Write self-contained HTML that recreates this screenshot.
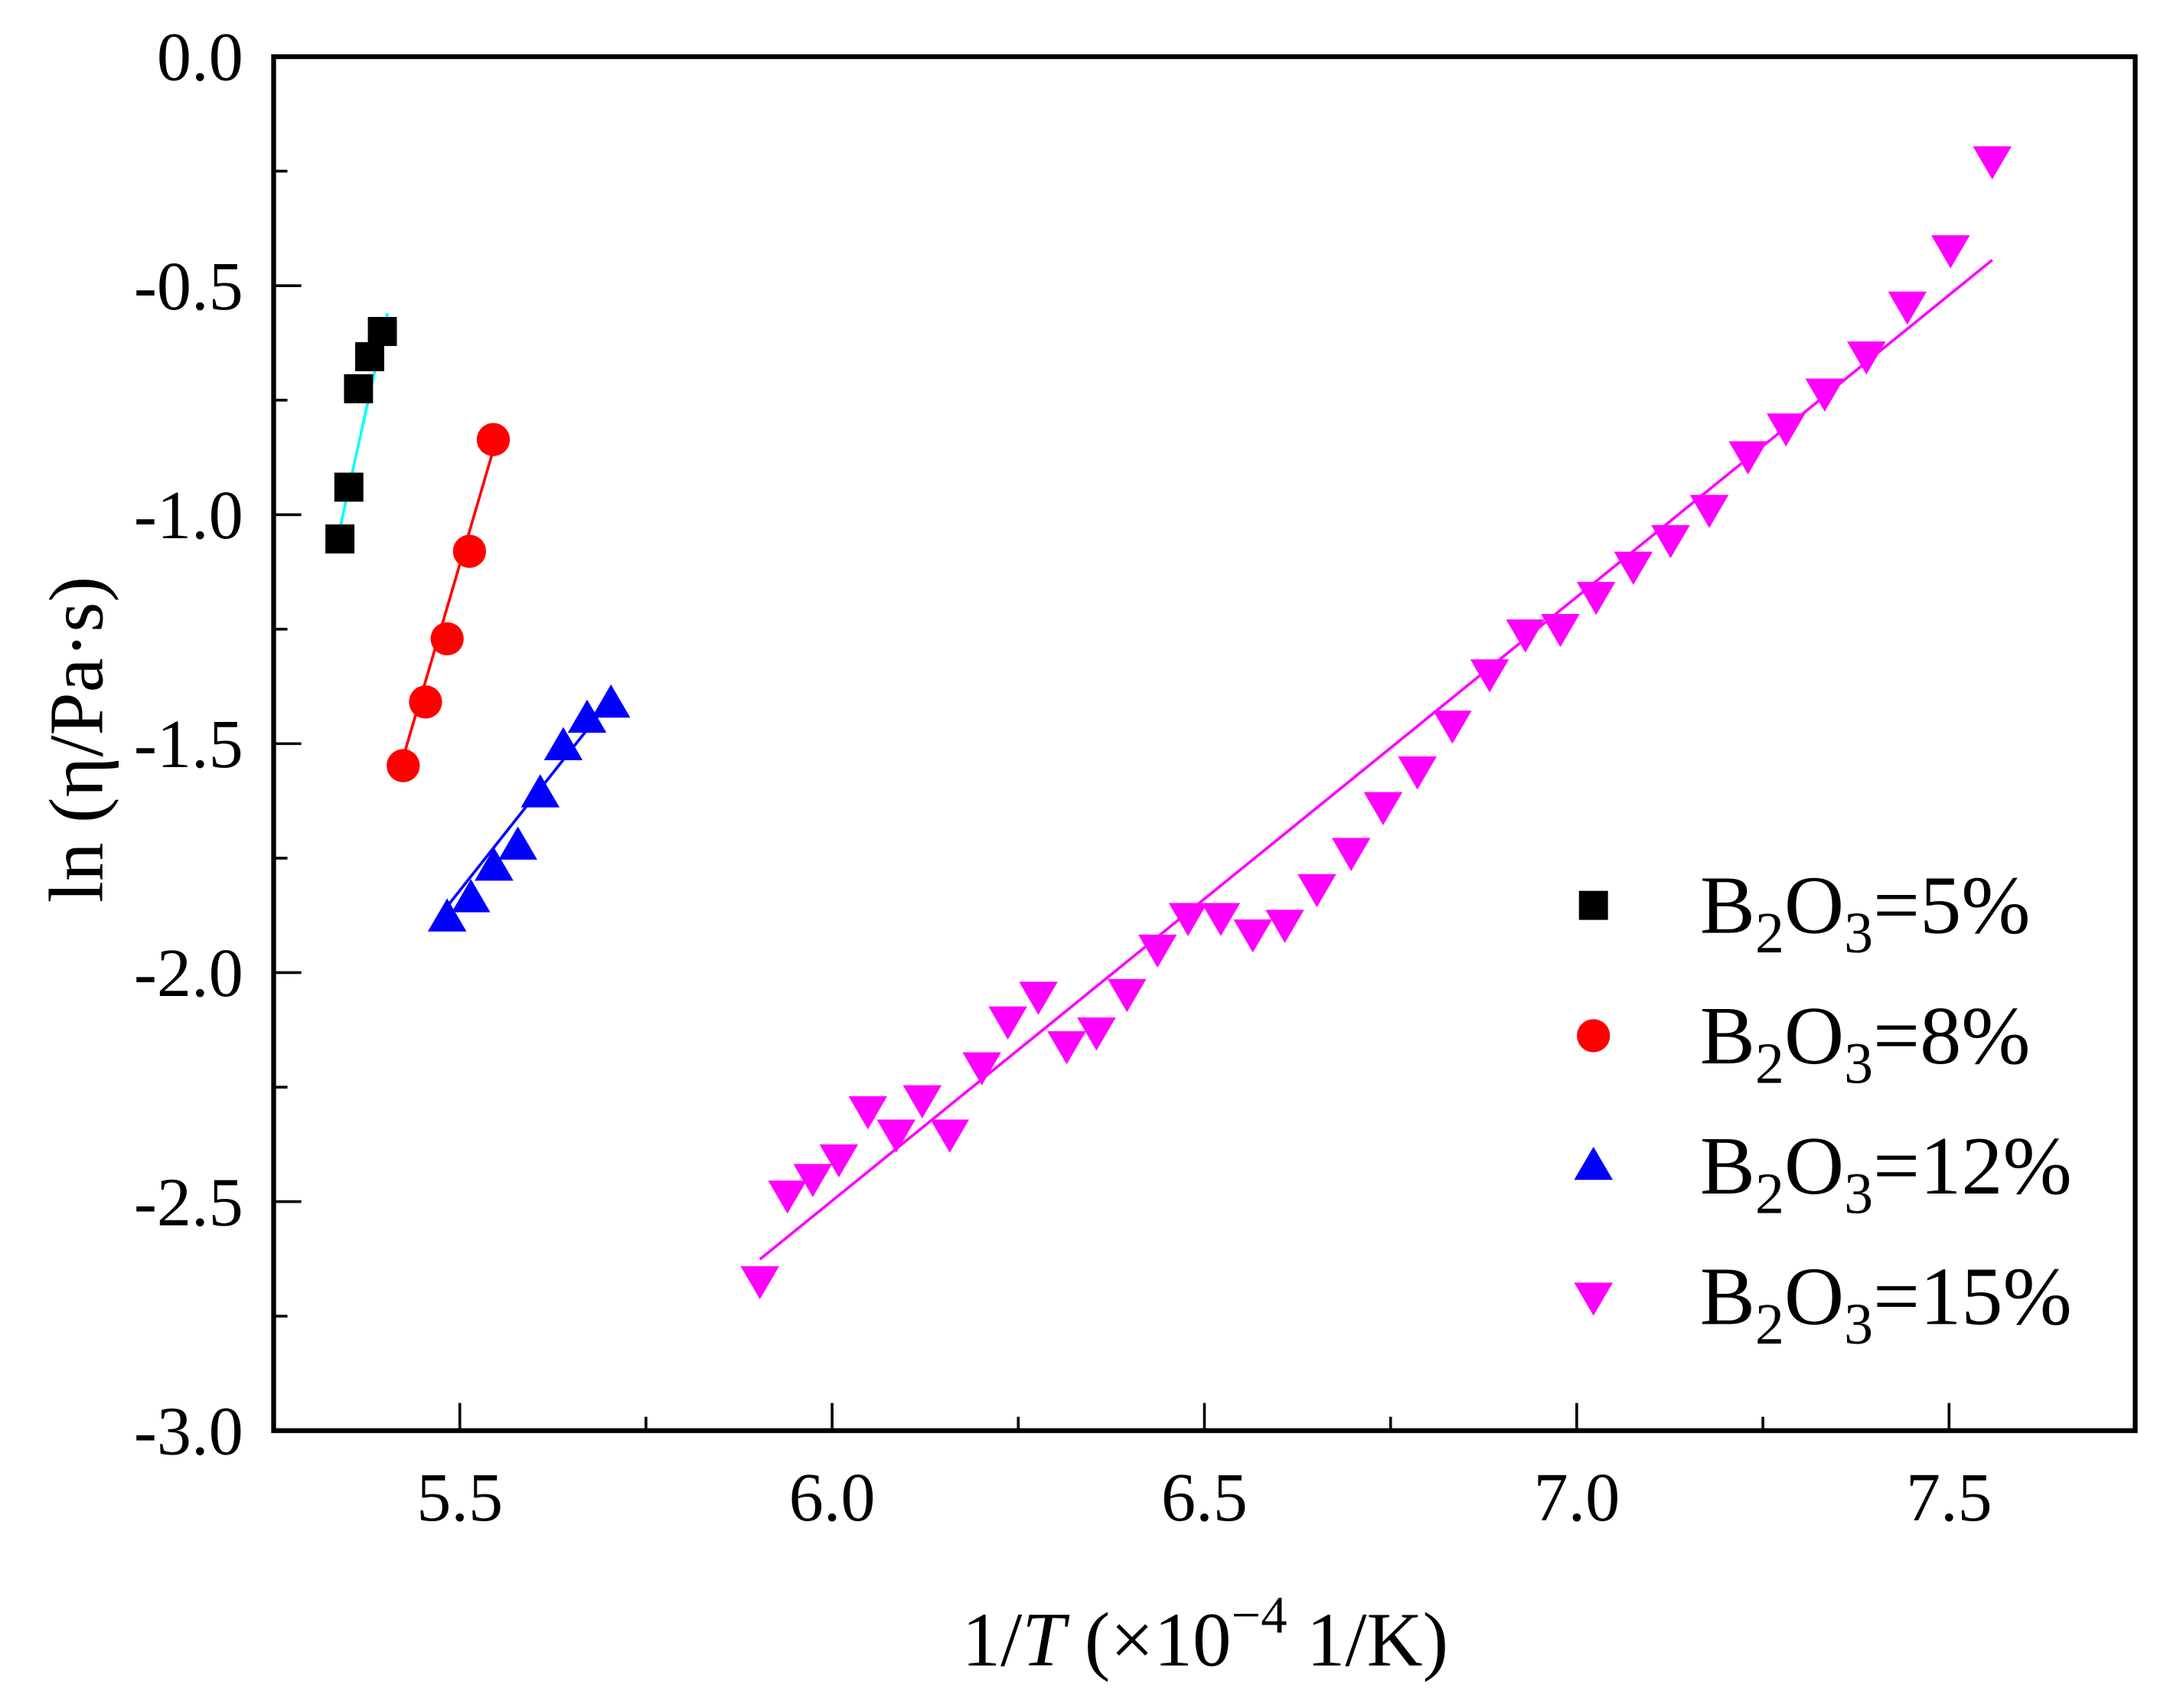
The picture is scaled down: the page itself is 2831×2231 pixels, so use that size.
<!DOCTYPE html>
<html><head><meta charset="utf-8"><style>
html,body{margin:0;padding:0;background:#fff;}
svg{display:block;}
text{font-family:"Liberation Serif",serif;fill:#000;}
</style></head><body>
<svg id="chart" width="2831" height="2231" viewBox="0 0 1568 1235.66" xmlns="http://www.w3.org/2000/svg">
<g id="plot"></g>
</svg>
<script>
const xTicks=[5.5,6.0,6.5,7.0,7.5];
const xTickLabels=["5.5","6.0","6.5","7.0","7.5"];
const yTicks=[0,-0.5,-1.0,-1.5,-2.0,-2.5,-3.0];
const yTickLabels=["0.0","-0.5","-1.0","-1.5","-2.0","-2.5","-3.0"];
const s5x=[5.339,5.351,5.364,5.379,5.396];
const s5y=[-1.053,-0.94,-0.725,-0.655,-0.60];
const s8x=[5.424,5.454,5.483,5.513,5.545];
const s8y=[-1.548,-1.409,-1.271,-1.080,-0.836];
const s12x=[5.483,5.515,5.546,5.578,5.608,5.639,5.671,5.703];
const s12y=[-1.88,-1.838,-1.769,-1.723,-1.609,-1.506,-1.446,-1.413];
const s15x=[5.903,5.940,5.974,6.009,6.048,6.086,6.121,6.158,6.201,6.236,6.277,6.315,6.355,6.396,6.437,6.478,6.522,6.565,6.608,6.651,6.697,6.740,6.786,6.833,6.883,6.931,6.978,7.026,7.076,7.126,7.178,7.230,7.281,7.333,7.389,7.444,7.502,7.558];
const s15y=[-2.671,-2.484,-2.448,-2.405,-2.300,-2.351,-2.276,-2.351,-2.204,-2.104,-2.050,-2.158,-2.128,-2.044,-1.947,-1.878,-1.878,-1.914,-1.893,-1.815,-1.736,-1.636,-1.558,-1.458,-1.346,-1.259,-1.247,-1.177,-1.111,-1.053,-0.987,-0.870,-0.809,-0.733,-0.652,-0.543,-0.420,-0.226];
const fit5x=[5.339,5.403], fit5y=[-1.03,-0.56];
const fit8x=[5.424,5.548], fit8y=[-1.53,-0.842];
const fit12x=[5.474,5.697], fit12y=[-1.874,-1.416];
const fit15x=[5.903,7.558], fit15y=[-2.626,-0.444];

const L=198,R=1545,T=41,B=1035;
const xMin=5.25,xMax=7.75,yMin=-3,yMax=0;
const xs=v=>L+(v-xMin)/(xMax-xMin)*(R-L);
const ys=v=>B-(v-yMin)/(yMax-yMin)*(B-T);
const NS="http://www.w3.org/2000/svg";
const g=document.getElementById('plot');
function mk(tag,attrs,parent){const e=document.createElementNS(NS,tag);for(const k in attrs)e.setAttribute(k,attrs[k]);(parent||g).appendChild(e);return e;}

xTicks.forEach((v,i)=>{
  const t=mk('line',{x1:xs(v),x2:xs(v),y1:B,y2:B-20,stroke:'#000','stroke-width':2});
  
  
  const m=mk('line',{x1:xs(v+0.25),x2:xs(v+0.25),y1:B,y2:B-10,stroke:'#000','stroke-width':2});
  
  
  const lb=mk('text',{x:xs(v),y:1100,'font-size':50,'text-anchor':'middle'});
  lb.textContent=xTickLabels[i];
  
  
});
yTicks.forEach((v,i)=>{
  const t=mk('line',{x1:L,x2:L+20,y1:ys(v),y2:ys(v),stroke:'#000','stroke-width':2});
  
  
  if(v>-3){const m=mk('line',{x1:L,x2:L+10,y1:ys(v-0.25),y2:ys(v-0.25),stroke:'#000','stroke-width':2});
  
  }
  const lb=mk('text',{x:176,y:ys(v)+17,'font-size':50,'text-anchor':'end'});
  lb.textContent=yTickLabels[i];
  
  
});
const frame=mk('rect',{x:L,y:T,width:R-L,height:B-T,fill:'none',stroke:'#000','stroke-width':3.5});



function fit(xa,ya,col,name){
  const l=mk('line',{x1:xs(xa[0]),y1:ys(ya[0]),x2:xs(xa[1]),y2:ys(ya[1]),stroke:col,'stroke-width':2});
  
  
}
function marker(type,cx,cy,col,parent){
  let e;
  if(type==='sq') e=mk('rect',{x:cx-10.5,y:cy-10.5,width:21,height:21,fill:col},parent);
  else if(type==='ci') e=mk('circle',{cx:cx,cy:cy,r:12,fill:col},parent);
  else if(type==='up') e=mk('polygon',{points:`${cx},${cy-14} ${cx-14},${cy+10} ${cx+14},${cy+10}`,fill:col},parent);
  else e=mk('polygon',{points:`${cx},${cy+14} ${cx-14},${cy-10} ${cx+14},${cy-10}`,fill:col},parent);
  return e;
}
function series(xa,ya,type,col,name){
  const grp=mk('g',{});
  
  
  xa.forEach((x,i)=>{
    const e=marker(type,xs(x),ys(ya[i]),col,grp);
    
    
  });
}
fit(fit5x,fit5y,'#00ffff','fit-line-5pct');
fit(fit8x,fit8y,'#ff0000','fit-line-8pct');
fit(fit12x,fit12y,'#0000ff','fit-line-12pct');
fit(fit15x,fit15y,'#ff00ff','fit-line-15pct');
series(s5x,s5y,'sq','#000','series-5pct');
series(s8x,s8y,'ci','#ff0000','series-8pct');
series(s12x,s12y,'up','#0000ff','series-12pct');
series(s15x,s15y,'dn','#ff00ff','series-15pct');

const legendLabels=["5%","8%","12%","15%"];
const legendTypes=['sq','ci','up','dn'];
const legendCols=['#000','#ff0000','#0000ff','#ff00ff'];
const lg=mk('g',{});


legendLabels.forEach((lab,i)=>{
  const cy=655+i*94.3;
  const m=marker(legendTypes[i],1153,cy,legendCols[i],lg);
  
  
  const t=mk('text',{x:1230,y:cy+20,'font-size':60},lg);
  
  
  t.innerHTML=`B<tspan font-size="42" dy="14">2</tspan><tspan dy="-14">O</tspan><tspan font-size="42" dy="14">3</tspan><tspan dy="-14">=${lab}</tspan>`;
});

const xt=mk('text',{x:872,y:1205,'font-size':56,'text-anchor':'middle'});


xt.innerHTML='1/<tspan font-style="italic">T</tspan> (×10<tspan font-size="38" dy="-24">−4</tspan><tspan dy="24"> 1/K)</tspan>';
const yt=mk('text',{x:0,y:0,'font-size':56,'text-anchor':'middle',transform:'translate(74,535) rotate(-90)'});


yt.textContent='ln (η/Pa·s)';
</script>
</body></html>
